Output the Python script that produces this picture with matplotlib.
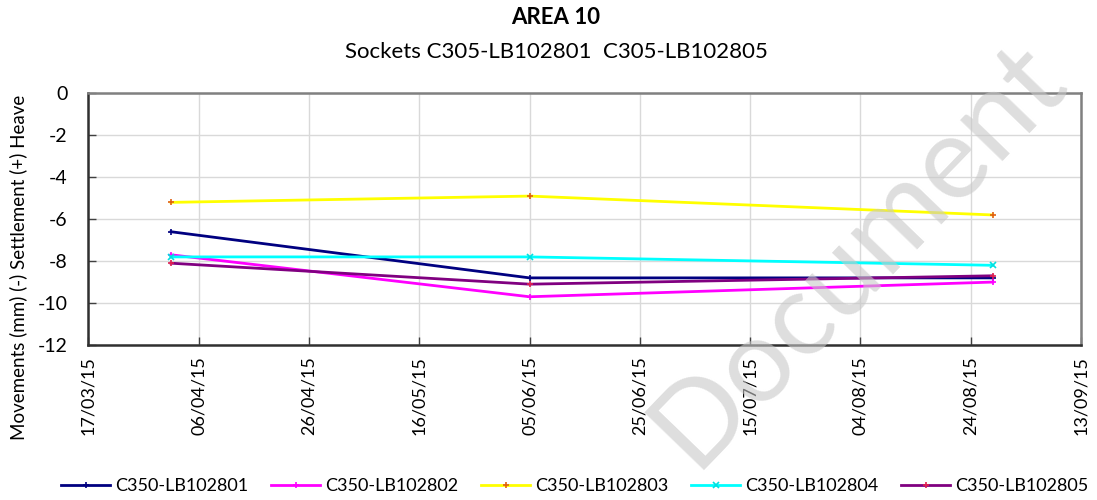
import matplotlib
matplotlib.use("Agg")
import matplotlib.pyplot as plt
import matplotlib.dates as mdates
import datetime as dt

plt.rcParams['font.family'] = ['Lato', 'DejaVu Sans']
plt.rcParams['axes.unicode_minus'] = False

dates = [dt.date(2015, 4, 1), dt.date(2015, 6, 5), dt.date(2015, 8, 28)]
series_names = ["C350-LB102801", "C350-LB102802", "C350-LB102803", "C350-LB102804", "C350-LB102805"]
lb102801 = [-6.6, -8.8, -8.8]
lb102802 = [-7.7, -9.7, -9.0]
lb102803 = [-5.2, -4.9, -5.8]
lb102804 = [-7.8, -7.8, -8.2]
lb102805 = [-8.1, -9.1, -8.7]
x_ticks = [dt.date(2015, 3, 17) + dt.timedelta(days=20 * i) for i in range(10)]
y_ticks = [0, -2, -4, -6, -8, -10, -12]

line_colors = ["#000080", "#ff00ff", "#ffff00", "#00ffff", "#800080"]
marker_colors = ["#000080", "#ff00ff", "#e06010", "#00e0e0", "#e02050"]
markers = ["+", "+", "+", "x", "+"]

fig = plt.figure(figsize=(10.97, 5.0), dpi=100)
ax = fig.add_axes([88.3 / 1097, 0.31, (1081 - 88.3) / 1097, (345 - 93.3) / 500])

all_vals = [lb102801, lb102802, lb102803, lb102804, lb102805]
for name, vals, lc, mc, mk in zip(series_names, all_vals, line_colors, marker_colors, markers):
    ax.plot(dates, vals, color=lc, lw=2.0, marker=mk, markersize=5,
            markeredgecolor=mc, markeredgewidth=1.2, label=name, zorder=3)

ax.set_xlim(x_ticks[0], x_ticks[-1])
ax.set_ylim(-12, 0)
ax.set_xticks(x_ticks)
ax.xaxis.set_major_formatter(mdates.DateFormatter('%d/%m/%y'))
ax.set_yticks(y_ticks)
ax.set_yticklabels([str(v) for v in y_ticks])
ax.tick_params(axis='x', labelrotation=90, labelsize=13, direction='in', length=6, width=1.0, colors='#404040', labelcolor='black', pad=8)
ax.tick_params(axis='y', labelsize=14, direction='in', length=6, width=1.0, colors='#404040', labelcolor='black', pad=15)
ax.grid(True, color='#d9d9d9', lw=1.0, zorder=0)
ax.set_axisbelow(True)
for side in ['left', 'bottom']:
    ax.spines[side].set_color('#303030')
    ax.spines[side].set_linewidth(1.8)
for side in ['top', 'right']:
    ax.spines[side].set_color('#808080')
    ax.spines[side].set_linewidth(1.8)

fig.text(556 / 1097, 1 - 17 / 500, "AREA 10", ha='center', va='center', fontsize=16, fontweight='bold')
fig.text(556 / 1097, 1 - 52 / 500, "Sockets C305-LB102801  C305-LB102805", ha='center', va='center', fontsize=16)
fig.text(18 / 1097, 1 - 267 / 500, "Movements (mm) (-) Settlement (+) Heave", rotation=90,
         ha='center', va='center', fontsize=13.5)

leg = fig.legend(loc='center', bbox_to_anchor=(575 / 1097, 1 - 486 / 500), ncol=5, frameon=False,
                 fontsize=13, handlelength=2.7, columnspacing=1.25, handletextpad=0.3)

fig.text(858 / 1097, 1 - 254 / 500, "Document", rotation=46, ha='center', va='center',
         fontsize=84, color='#c8c8c8', alpha=0.6, zorder=10)

fig.savefig("out.png", dpi=100)
